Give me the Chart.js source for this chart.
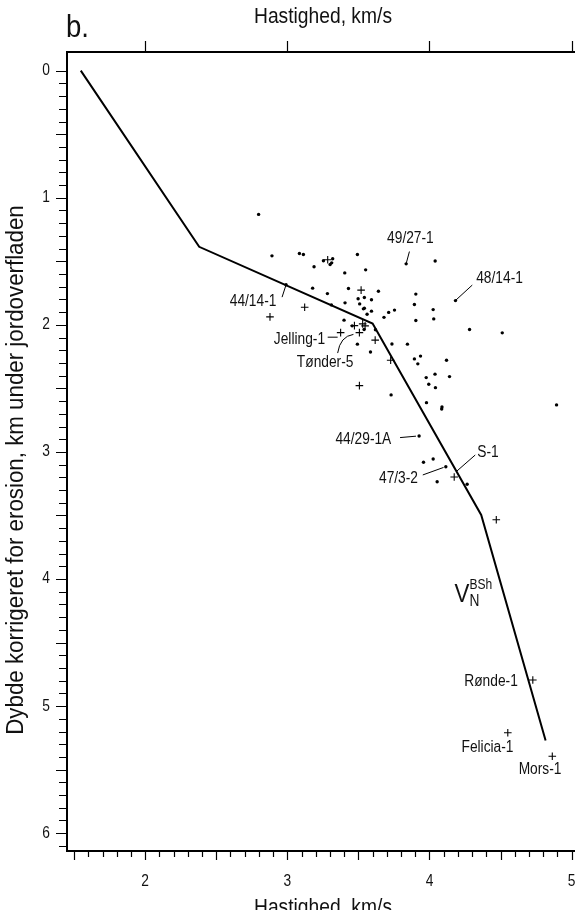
<!DOCTYPE html>
<html>
<head>
<meta charset="utf-8">
<script src="https://cdn.jsdelivr.net/npm/chart.js@4.4.1/dist/chart.umd.min.js"></script>
<style>
  html, body { margin: 0; padding: 0; background: #fff; overflow: hidden; }
  #wrap { width: 620px; height: 910px; }
</style>
</head>
<body>
<div id="wrap"><canvas id="velocityChart" width="620" height="910"></canvas></div>
<script>
// brønddata: hastighed (km/s) mod dybde korrigeret for erosion (km)
const dotVelocity = [
  2.798, 2.892, 3.085, 3.113, 3.188, 3.254, 3.319, 3.301, 3.312, 3.493,
  3.404, 3.551, 3.178, 3.282, 3.430, 3.641, 2.991, 3.310, 3.406, 3.498,
  3.542, 3.592, 3.509, 3.542, 3.535, 3.592, 3.561, 3.680, 3.713, 3.754,
  3.399, 3.456, 3.540, 3.620, 3.493, 3.736, 3.585, 3.836, 4.040, 4.183,
  3.904, 3.894, 4.026, 4.030, 3.904, 4.282, 4.512, 3.845, 3.894, 3.937,
  3.918, 4.120, 3.977, 4.039, 4.141, 3.995, 4.042, 3.730, 3.979, 4.088,
  4.086, 3.927, 3.958, 4.026, 4.115, 4.054, 4.265, 4.894
];
const dotDepth = [
  1.131, 1.457, 1.439, 1.446, 1.543, 1.496, 1.480, 1.525, 1.512, 1.446,
  1.591, 1.567, 1.711, 1.754, 1.714, 1.736, 1.685, 1.843, 1.827, 1.795,
  1.785, 1.803, 1.835, 1.869, 1.874, 1.892, 1.916, 1.941, 1.902, 1.884,
  1.963, 2.008, 2.037, 2.039, 2.152, 2.151, 2.214, 1.520, 1.498, 1.809,
  1.758, 1.840, 1.880, 1.953, 1.966, 2.037, 2.063, 2.152, 2.268, 2.246,
  2.307, 2.278, 2.415, 2.388, 2.407, 2.467, 2.494, 2.551, 2.612, 2.646,
  2.662, 2.874, 3.081, 3.055, 3.116, 3.234, 3.254, 2.630
];

const crossVelocity = [
  3.284, 3.519, 3.122, 2.878, 3.472, 3.530, 3.547, 3.375, 3.507, 3.618,
  3.727, 3.507, 4.174, 4.470, 4.727, 4.551, 4.864
];
const crossDepth = [
  1.488, 1.727, 1.861, 1.937, 2.006, 1.992, 2.008, 2.061, 2.061, 2.120,
  2.278, 2.478, 3.197, 3.533, 4.795, 5.210, 5.394
];

// V_N^BSh kurven
const trendVelocity = [1.547, 2.38, 3.60, 4.364, 4.817];
const trendDepth = [0, 1.386, 1.99, 3.496, 5.27];

const xTickValues = [2, 3, 4, 5];
const xTickLabels = ["2", "3", "4", "5"];
const yTickValues = [0, 1, 2, 3, 4, 5, 6];
const yTickLabels = ["0", "1", "2", "3", "4", "5", "6"];

const wellNames = ["49/27-1", "48/14-1", "44/14-1", "Jelling-1", "Tønder-5", "44/29-1A", "47/3-2", "S-1", "Rønde-1", "Felicia-1", "Mors-1"];

// tekstplacering (data-enheder) og henvisningsstreger
const labelLayout = [
  { at: [3.866, 1.325], lead: [[3.859, 1.423], [3.836, 1.518]] },
  { at: [4.493, 1.638], lead: [[4.301, 1.687], [4.183, 1.808]] },
  { at: [2.759, 1.819], lead: [[2.963, 1.782], [2.991, 1.685]] },
  { at: [3.085, 2.113], lead: [[3.284, 2.097], [3.354, 2.097]] },
  { at: [3.266, 2.297], curve: [[3.354, 2.222], [3.372, 2.09], [3.465, 2.075]] },
  { at: [3.535, 2.900], lead: [[3.793, 2.887], [3.905, 2.876]] },
  { at: [3.782, 3.207], lead: [[3.953, 3.181], [4.099, 3.122]] },
  { at: [4.412, 3.002], lead: [[4.322, 3.024], [4.188, 3.155]] },
  { at: [4.433, 4.809] },
  { at: [4.408, 5.325] },
  { at: [4.778, 5.498] }
];

const SQUEEZE = 0.86;
const FONT = '"Liberation Sans", Arial, sans-serif';
const INK = "#111";

const toPoints = (xs, ys) => xs.map((x, i) => ({ x, y: ys[i] }));

const drawText = (ctx, text, x, y, size, align, baseline, rotate, squeeze = SQUEEZE) => {
  ctx.save();
  ctx.font = `${size}px ${FONT}`;
  ctx.fillStyle = INK;
  ctx.textAlign = align;
  ctx.textBaseline = baseline;
  ctx.translate(x, y);
  if (rotate) ctx.rotate(rotate);
  ctx.scale(squeeze, 1);
  ctx.fillText(text, 0, 0);
  ctx.restore();
};

const frameAxes = {
  id: "frameAxes",
  afterDraw(chart) {
    const { ctx, chartArea: area, scales } = chart;
    const sx = scales.x;
    const sy = scales.y;
    ctx.save();
    ctx.strokeStyle = "#000";

    // ramme: venstre, top, bund
    ctx.lineWidth = 2;
    ctx.beginPath();
    ctx.moveTo(area.right + 2, area.top);
    ctx.lineTo(area.left, area.top);
    ctx.lineTo(area.left, area.bottom);
    ctx.lineTo(area.right + 2, area.bottom);
    ctx.stroke();

    ctx.lineWidth = 1.2;
    ctx.beginPath();
    // bund: streg for hver 0.1, længere ved hver 0.5
    for (let i = 15; i <= 52; i++) {
      const px = Math.round(sx.getPixelForValue(i / 10)) + 0.5;
      const len = i % 5 === 0 ? 8 : 5;
      ctx.moveTo(px, area.bottom + 1);
      ctx.lineTo(px, area.bottom + 1 + len);
    }
    // top: kun hele værdier
    xTickValues.forEach((v) => {
      const px = Math.round(sx.getPixelForValue(v)) + 0.5;
      ctx.moveTo(px, area.top - 1);
      ctx.lineTo(px, area.top - 11);
    });
    // venstre: streg for hver 0.1, længere ved hver 0.5
    for (let i = 0; i <= 61; i++) {
      const py = Math.round(sy.getPixelForValue(i / 10)) + 0.5;
      const len = i % 5 === 0 ? 10 : 7;
      ctx.moveTo(area.left - 1, py);
      ctx.lineTo(area.left - 1 - len, py);
    }
    ctx.stroke();

    xTickValues.forEach((v, i) => {
      drawText(ctx, xTickLabels[i], sx.getPixelForValue(v), area.bottom + 35, 16, "center", "alphabetic");
    });
    yTickValues.forEach((v, i) => {
      drawText(ctx, yTickLabels[i], area.left - 17, sy.getPixelForValue(v), 16, "right", "middle");
    });

    const midX = 323;
    drawText(ctx, "Hastighed, km/s", midX, 23, 22, "center", "alphabetic", 0, 0.875);
    drawText(ctx, "Hastighed, km/s", midX, 914, 22, "center", "alphabetic", 0, 0.875);
    drawText(ctx, "Dybde korrigeret for erosion, km under jordoverfladen", 17, 470, 23, "center", "middle", -Math.PI / 2, 0.97);
    drawText(ctx, "b.", 66, 37, 32, "left", "alphabetic");

    // brøndnavne med henvisningsstreger
    ctx.lineWidth = 1;
    wellNames.forEach((name, i) => {
      const item = labelLayout[i];
      drawText(ctx, name, sx.getPixelForValue(item.at[0]), sy.getPixelForValue(item.at[1]), 16, "center", "middle");
      if (item.lead) {
        ctx.beginPath();
        ctx.moveTo(sx.getPixelForValue(item.lead[0][0]), sy.getPixelForValue(item.lead[0][1]));
        ctx.lineTo(sx.getPixelForValue(item.lead[1][0]), sy.getPixelForValue(item.lead[1][1]));
        ctx.stroke();
      }
      if (item.curve) {
        const [a, c, b] = item.curve;
        ctx.beginPath();
        ctx.moveTo(sx.getPixelForValue(a[0]), sy.getPixelForValue(a[1]));
        ctx.quadraticCurveTo(sx.getPixelForValue(c[0]), sy.getPixelForValue(c[1]), sx.getPixelForValue(b[0]), sy.getPixelForValue(b[1]));
        ctx.stroke();
      }
    });

    // kurvenavn V_N^BSh
    const vx = sx.getPixelForValue(4.176);
    const vy = sy.getPixelForValue(4.106);
    drawText(ctx, "V", vx, vy + 9, 26, "left", "alphabetic");
    drawText(ctx, "BSh", vx + 15, vy - 4, 14, "left", "alphabetic");
    drawText(ctx, "N", vx + 15, vy + 13, 16, "left", "alphabetic");

    ctx.restore();
  },
};

new Chart(document.getElementById("velocityChart"), {
  type: "scatter",
  data: {
    datasets: [
      {
        label: "V_N^BSh",
        data: toPoints(trendVelocity, trendDepth),
        showLine: true,
        borderColor: "#000",
        borderWidth: 2,
        pointRadius: 0,
        tension: 0,
      },
      {
        label: "Brønde",
        data: toPoints(dotVelocity, dotDepth),
        pointStyle: "circle",
        pointRadius: 1.7,
        backgroundColor: "#000",
        borderColor: "#000",
        borderWidth: 0,
      },
      {
        label: "Brønde (+)",
        data: toPoints(crossVelocity, crossDepth),
        pointStyle: "cross",
        pointRadius: 3.8,
        borderColor: "#000",
        borderWidth: 1.1,
      },
    ],
  },
  options: {
    responsive: false,
    animation: false,
    devicePixelRatio: 1,
    layout: { padding: { left: 67, top: 52, right: 10, bottom: 59 } },
    plugins: {
      legend: { display: false },
      tooltip: { enabled: false },
    },
    scales: {
      x: { type: "linear", min: 1.45, max: 5.27, display: false },
      y: { type: "linear", min: -0.147, max: 6.14, reverse: true, display: false },
    },
  },
  plugins: [frameAxes],
});
</script>
</body>
</html>
